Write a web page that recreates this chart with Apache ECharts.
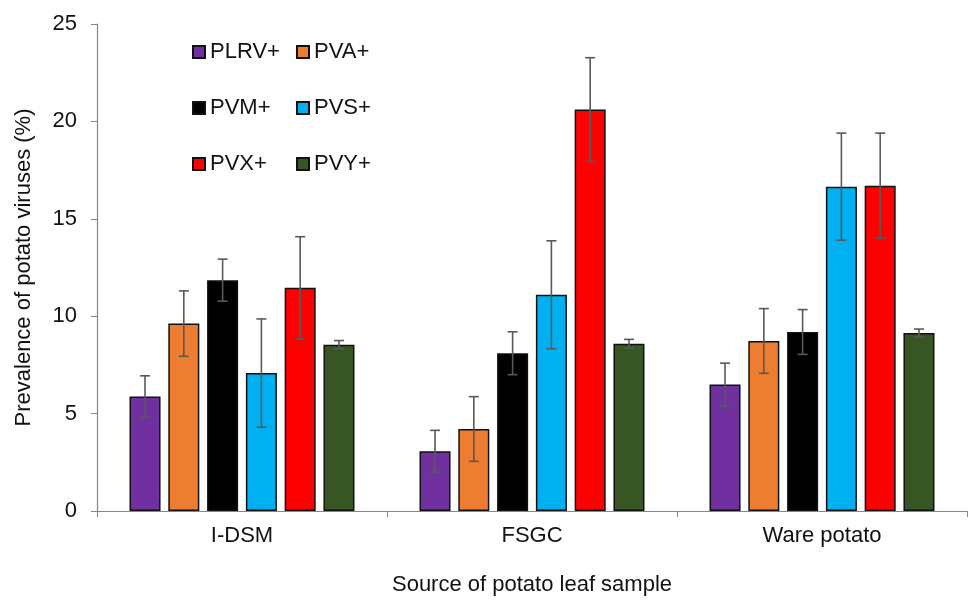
<!DOCTYPE html>
<html>
<head>
<meta charset="utf-8">
<script src="https://cdn.jsdelivr.net/npm/echarts@6/dist/echarts.min.js"></script>
<style>html,body{margin:0;padding:0;background:#fff}#c{width:970px;height:601px}</style>
</head>
<body>
<div id="c"></div>
<script>
const categories = ['I-DSM', 'FSGC', 'Ware potato'];
const seriesNames = ['PLRV+', 'PVA+', 'PVM+', 'PVS+', 'PVX+', 'PVY+'];
const seriesColors = ['#7030a0', '#ed7d31', '#000000', '#00b0f0', '#ff0000', '#375623'];
const PLRV = [5.88, 3.07, 6.49];
const PVA = [9.62, 4.21, 8.73];
const PVM = [11.85, 8.10, 9.19];
const PVS = [7.08, 11.10, 16.65];
const PVX = [11.46, 20.61, 16.70];
const PVY = [8.54, 8.59, 9.14];
const PLRV_err = [1.06, 1.07, 1.10];
const PVA_err = [1.68, 1.66, 1.66];
const PVM_err = [1.08, 1.10, 1.15];
const PVS_err = [2.78, 2.77, 2.75];
const PVX_err = [2.62, 2.66, 2.70];
const PVY_err = [0.21, 0.22, 0.20];
const yTicks = [0, 5, 10, 15, 20, 25];

const values = [PLRV, PVA, PVM, PVS, PVX, PVY];
const errors = [PLRV_err, PVA_err, PVM_err, PVS_err, PVX_err, PVY_err];

const BW = 0.107;   // bar width fraction of band
const GAP = 0.25;   // gap fraction of bar width
const font = 'Liberation Sans, Arial, sans-serif';

const series = [];
seriesNames.forEach((n, i) => {
  series.push({
    name: n, type: 'bar', data: values[i],
    barWidth: (BW * 100) + '%', barGap: (GAP * 100) + '%',
    itemStyle: { color: seriesColors[i], borderColor: '#111', borderWidth: 1.5 },
    z: 2
  });
});
seriesNames.forEach((n, i) => {
  series.push({
    type: 'custom', name: n + ' err',
    data: values[i].map((v, k) => [k, v - errors[i][k], v + errors[i][k]]),
    z: 5, silent: true,
    renderItem: function (params, api) {
      const k = api.value(0);
      const band = api.size([1, 0])[0];
      const bw = band * BW;
      const off = (i - 2.5) * bw * (1 + GAP);
      const lo = api.coord([k, api.value(1)]);
      const hi = api.coord([k, api.value(2)]);
      const x = lo[0] + off;
      const cap = 5;
      const st = { stroke: '#595959', lineWidth: 1.6 };
      return {
        type: 'group', children: [
          { type: 'line', shape: { x1: x, y1: lo[1], x2: x, y2: hi[1] }, style: st },
          { type: 'line', shape: { x1: x - cap, y1: lo[1], x2: x + cap, y2: lo[1] }, style: st },
          { type: 'line', shape: { x1: x - cap, y1: hi[1], x2: x + cap, y2: hi[1] }, style: st }
        ]
      };
    }
  });
});

const legendCommon = {
  orient: 'vertical', itemWidth: 12, itemHeight: 12, icon: 'rect',
  itemGap: 32, selectedMode: false,
  textStyle: { fontFamily: font, fontSize: 22, color: '#111', lineHeight: 24 }
};

const chart = echarts.init(document.getElementById('c'));
chart.setOption({
  animation: false,
  backgroundColor: '#fff',
  grid: { left: 97, right: 3, top: 24, bottom: 86 },
  legend: [
    Object.assign({}, legendCommon, { left: 187, top: 35, data: ['PLRV+', 'PVM+', 'PVX+'] }),
    Object.assign({}, legendCommon, { left: 291, top: 35, data: ['PVA+', 'PVS+', 'PVY+'] })
  ],
  xAxis: {
    type: 'category', data: categories,
    name: 'Source of potato leaf sample', nameLocation: 'middle', nameGap: 63,
    nameTextStyle: { fontFamily: font, fontSize: 22, color: '#111' },
    axisLine: { lineStyle: { color: '#868686', width: 1.2 } },
    axisTick: { show: true, length: 6, lineStyle: { color: '#868686' } },
    axisLabel: { fontFamily: font, fontSize: 22, color: '#111', margin: 14 }
  },
  yAxis: {
    type: 'value', min: 0, max: 25, interval: 5,
    name: 'Prevalence of potato viruses (%)', nameLocation: 'middle', nameGap: 62,
    nameTextStyle: { fontFamily: font, fontSize: 22, color: '#111' },
    axisLine: { show: true, lineStyle: { color: '#868686', width: 1.2 } },
    axisTick: { show: true, length: 6, lineStyle: { color: '#868686' } },
    axisLabel: { fontFamily: font, fontSize: 22, color: '#111', margin: 20,
      formatter: v => (yTicks.indexOf(v) >= 0 ? String(v) : '') },
    splitLine: { show: false }
  },
  series: series
});
</script>
</body>
</html>
